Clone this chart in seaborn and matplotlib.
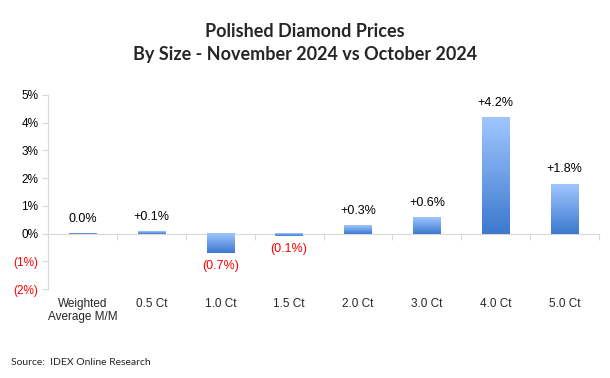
import numpy as np
import matplotlib
matplotlib.use("Agg")
import matplotlib.pyplot as plt
import seaborn as sns
from matplotlib.colors import LinearSegmentedColormap

# Data
categories = ["Weighted\nAverage M/M", "0.5 Ct", "1.0 Ct", "1.5 Ct", "2.0 Ct", "3.0 Ct", "4.0 Ct", "5.0 Ct"]
changes = [0.0, 0.1, -0.7, -0.1, 0.3, 0.6, 4.2, 1.8]
y_ticks = [-2, -1, 0, 1, 2, 3, 4, 5]

sns.set_style("white")
plt.rcParams["font.family"] = ["Liberation Sans", "DejaVu Sans"]

fig = plt.figure(figsize=(6.1, 3.78), dpi=100)
ax = fig.add_axes([0.079, 0.235, 0.903, 0.514])

sns.barplot(x=categories, y=changes, width=0.4, color="#6fa0e8", ax=ax)

ymin, ymax = -2, 5
ax.set_ylim(ymin, ymax)
ax.set_xlim(-0.5, len(categories) - 0.5)

# gradient fill on bars
cmap = LinearSegmentedColormap.from_list("blu", ["#3c79cf", "#a0c6ff"])
grad = np.linspace(0, 1, 100).reshape(-1, 1)
for p in ax.patches:
    x0, y0 = p.get_x(), p.get_y()
    w, h = p.get_width(), p.get_height()
    lo, hi = min(y0, y0 + h), max(y0, y0 + h)
    if hi - lo < 0.03:
        # very thin bars look like a line
        lo, hi = (lo, lo + 0.03) if h >= 0 else (hi - 0.03, hi)
    ax.imshow(grad, extent=[x0, x0 + w, lo, hi], origin="lower", cmap=cmap,
              aspect="auto", zorder=3)
    p.set_facecolor("none")
    p.set_edgecolor("none")
ax.set_ylim(ymin, ymax)
ax.set_xlim(-0.5, len(categories) - 0.5)

# value labels
for i, v in enumerate(changes):
    if v > 0:
        ax.annotate(f"+{v:.1f}%", (i, v), xytext=(0, 6), textcoords="offset points",
                    ha="center", va="bottom", fontsize=9, color="black")
    elif v == 0:
        ax.annotate(f"{v:.1f}%", (i, v), xytext=(0, 6), textcoords="offset points",
                    ha="center", va="bottom", fontsize=9, color="black")
    else:
        ax.annotate(f"({abs(v):.1f}%)", (i, v), xytext=(0, -5), textcoords="offset points",
                    ha="center", va="top", fontsize=9, color="red")

# axes styling
for s in ["top", "right", "bottom"]:
    ax.spines[s].set_visible(False)
ax.spines["left"].set_color("#d9d9d9")
ax.set_yticks(y_ticks)
ax.set_yticklabels([f"{t}%" if t >= 0 else f"({abs(t)}%)" for t in y_ticks])
for lbl, t in zip(ax.get_yticklabels(), y_ticks):
    lbl.set_color("red" if t < 0 else "black")
ax.tick_params(axis="y", length=4, color="#d9d9d9", labelsize=8.5, left=True, pad=3)
ax.tick_params(axis="x", length=0, labelsize=8.5, pad=6)
ax.set_xticks(range(len(categories)))
ax.set_xticklabels(categories)

# zero line with category separators
zero_ax = ax.secondary_xaxis((0 - ymin) / (ymax - ymin))
zero_ax.spines["bottom"].set_color("#d9d9d9")
zero_ax.set_xticks(np.arange(len(categories) + 1) - 0.5)
zero_ax.set_xticklabels([])
zero_ax.tick_params(length=4, color="#d9d9d9", direction="out")

fig.text(0.5, 0.887, "Polished Diamond Prices\nBy Size - November 2024 vs October 2024",
         ha="center", va="center", fontsize=13, fontweight="bold", family=["Lato", "DejaVu Sans"],
         linespacing=1.45)
fig.text(0.018, 0.04, "Source:  IDEX Online Research", ha="left", va="center",
         fontsize=7.5, family=["Lato", "DejaVu Sans"])

fig.savefig("out.png", dpi=100)
